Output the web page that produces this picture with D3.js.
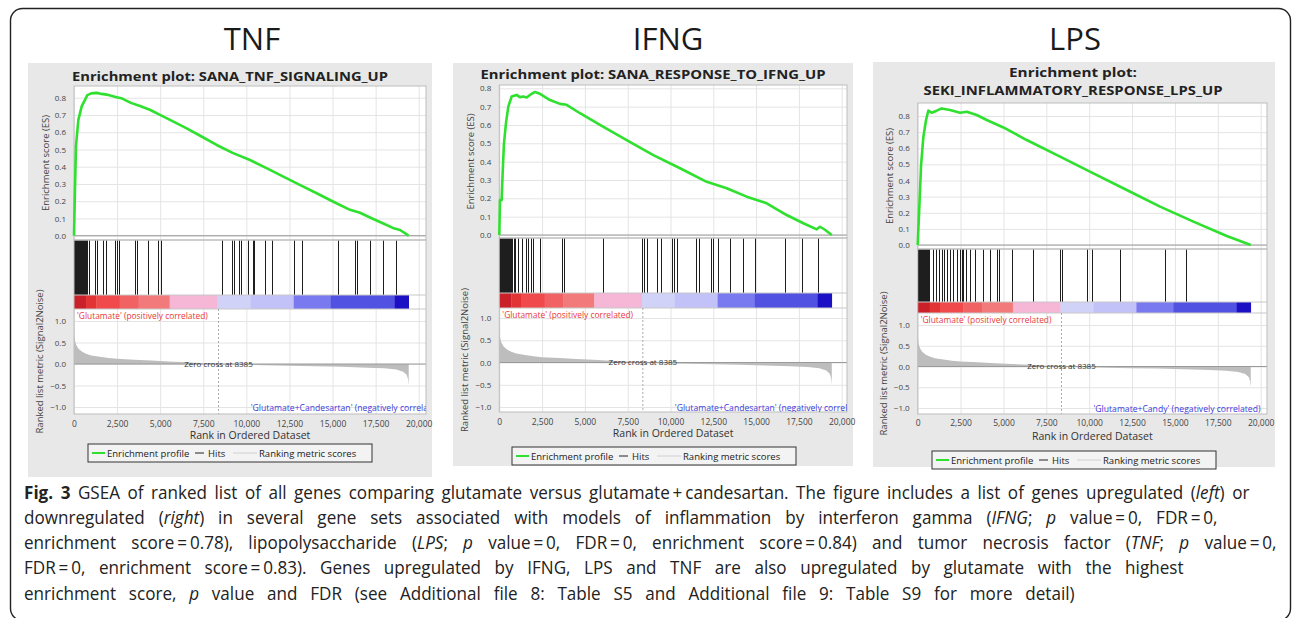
<!DOCTYPE html>
<html>
<head>
<meta charset="utf-8">
<script src="https://cdn.jsdelivr.net/npm/d3@7"></script>
<style>
  body { margin: 0; background: #fff; }
  svg text { font-family: "Open Sans", "DejaVu Sans", sans-serif; }
</style>
</head>
<body>
<svg id="fig" width="1292" height="618"></svg>
<script>
// ---- data ----
var panelNames = ['TNF', 'IFNG', 'LPS'];
var setTitles = [
  ['Enrichment plot: SANA_TNF_SIGNALING_UP'],
  ['Enrichment plot: SANA_RESPONSE_TO_IFNG_UP'],
  ['Enrichment plot:', 'SEKI_INFLAMMATORY_RESPONSE_LPS_UP']
];
var negLabels = [
  "'Glutamate+Candesartan' (negatively correlated)",
  "'Glutamate+Candesartan' (negatively correlated)",
  "'Glutamate+Candy' (negatively correlated)"
];
var posLabel = "'Glutamate' (positively correlated)";

var xTicks = [0, 2500, 5000, 7500, 10000, 12500, 15000, 17500, 20000];
var esTicks = [0, 0.1, 0.2, 0.3, 0.4, 0.5, 0.6, 0.7, 0.8];
var metricTicks = [-1, -0.5, 0, 0.5, 1];
var zeroCross = 8385;
var negLabelRank = 10250;

// running enrichment score [rank, ES]
var tnfES = [[0,0],[58,0.28],[116,0.52],[250,0.67],[445,0.75],[774,0.815],[1000,0.825],[1315,0.828],[1600,0.822],
  [1895,0.818],[2200,0.81],[2476,0.803],[2800,0.795],[3300,0.77],[3829,0.752],[4400,0.73],[4990,0.70],[5800,0.66],
  [6537,0.622],[7400,0.575],[8277,0.526],[9200,0.48],[10211,0.439],[11200,0.39],[12146,0.342],[13100,0.295],
  [14080,0.246],[15050,0.197],[16014,0.15],[16594,0.133],[17300,0.1],[17947,0.071],[18500,0.045],[18915,0.033],
  [19200,0.015],[19420,0]];
var ifngES = [[0,0],[39,0.19],[136,0.19],[195,0.336],[273,0.5],[390,0.61],[526,0.70],[720,0.755],[1013,0.764],
  [1200,0.752],[1402,0.755],[1600,0.75],[1792,0.764],[2084,0.78],[2376,0.77],[2960,0.736],[3544,0.715],[3934,0.71],
  [4713,0.664],[5881,0.60],[7439,0.518],[8997,0.436],[10555,0.364],[12113,0.29],[13281,0.255],[14450,0.209],
  [15618,0.173],[16786,0.109],[17760,0.064],[18539,0.031],[18734,0.045],[19000,0.03],[19420,0]];
var lpsES = [[0,0],[97,0.24],[194,0.49],[330,0.67],[486,0.775],[622,0.833],[816,0.82],[1108,0.833],[1400,0.847],
  [1886,0.837],[2469,0.82],[2858,0.826],[3441,0.806],[4024,0.775],[4996,0.729],[6357,0.651],[8301,0.548],
  [10245,0.444],[12189,0.341],[14133,0.238],[16077,0.145],[18021,0.056],[19420,0]];

// ranks of gene-set members (hits)
var tnfHits = [5,40,80,110,150,190,230,270,310,350,390,430,470,510,560,610,660,700,774,890,1218,1315,1702,1857,
  2379,2476,2630,3539,3636,4313,4893,5048,8568,9187,9303,9593,9670,10115,10367,10444,11082,11469,12764,13210,
  15337,16304,16440,17173,17910,18683];
var ifngHits = [10,40,70,100,130,160,200,240,280,320,360,400,450,500,560,620,680,750,830,910,1110,1305,1558,1694,
  1830,1947,2375,3641,3777,6075,8314,8450,8606,9190,9424,10066,10202,10397,11488,11682,12344,12461,12792,13474,
  14213,14934,16686,17660,18633];
var lpsHits = [5,35,70,100,130,160,190,220,250,280,310,340,370,400,430,460,490,520,550,580,610,640,914,1069,1225,
  1400,1555,1730,1886,2080,2274,2469,2566,2663,2819,3052,3344,3830,4218,4607,4763,5482,6746,8301,8398,9895,10148,
  11800,14424,15649];

// ranked list metric (Signal2Noise), shared by all three panels [rank, value]
var metricScores = [[0,0.88],[15,0.7],[50,0.55],[120,0.45],[250,0.36],[450,0.29],[700,0.24],[1000,0.2],[1500,0.17],
  [2000,0.14],[2500,0.12],[3500,0.1],[4500,0.08],[5500,0.06],[6500,0.04],[7500,0.02],[8385,0],[9500,-0.015],
  [11000,-0.03],[12500,-0.04],[14000,-0.05],[15500,-0.065],[17000,-0.085],[18000,-0.1],[18700,-0.13],
  [19100,-0.18],[19300,-0.25],[19380,-0.35],[19420,-0.5]];

// heat-map bar under the hits
var barEdges = [0,700,1300,2650,3750,5550,8330,10250,12750,14900,18600,19420];
var barColors = ['#c9202a','#e23434','#f04a4c','#f06264','#f27a7a','#f6b6d6','#d0d2f8','#c2c2f8','#7a7af0',
  '#5252e2','#1c10c4'];

var esSeries = [tnfES, ifngES, lpsES];
var hitSeries = [tnfHits, ifngHits, lpsHits];

// ---- page layout ----
var layout = [
  { bg: [28, 63, 404, 414], nameX: 252, subX: 230, subY: [81], subW: [316],
    left: 74, x20k: 418.7, right: 426, esTop: 86, esBottom: 240, es0: 235.7, es8: 97.7,
    barTop: 295, barBottom: 309, mBottom: 414, m1: 321, mm1: 407, tickY: 427, axisY: 439, legend: [88, 444] },
  { bg: [453, 63, 400, 403], nameX: 668, subX: 653, subY: [79], subW: [345],
    left: 499.3, x20k: 841.7, right: 847, esTop: 85, esBottom: 238, es0: 235, es8: 88.3,
    barTop: 293, barBottom: 308, mBottom: 412, m1: 318, mm1: 407, tickY: 425, axisY: 437, legend: [512, 447] },
  { bg: [873, 62, 402, 405], nameX: 1075, subX: 1073, subY: [77, 95], subW: [128, 299],
    left: 917.7, x20k: 1260.7, right: 1267, esTop: 103, esBottom: 249, es0: 245, es8: 116,
    barTop: 302, barBottom: 313, mBottom: 414, m1: 325, mm1: 408, tickY: 426, axisY: 440, legend: [932, 451] }
];

var svg = d3.select('#fig');

// rounded frame around the figure
svg.append('rect')
  .attr('x', 10.5).attr('y', 8.5)
  .attr('width', 1280).attr('height', 612)
  .attr('rx', 12)
  .attr('fill', 'none')
  .attr('stroke', '#222')
  .attr('stroke-width', 1.4);

function styleAxis(sel, size) {
  sel.attr('font-family', null).attr('font-size', size).style('color', '#444');
  sel.select('.domain').remove();
}

function drawPanel(k) {
  var p = layout[k];
  var es = esSeries[k];
  var hits = hitSeries[k];
  var g = svg.append('g');
  var w = p.right - p.left;

  g.append('rect')
    .attr('x', p.bg[0]).attr('y', p.bg[1])
    .attr('width', p.bg[2]).attr('height', p.bg[3])
    .attr('fill', '#e8e8e8');

  g.append('text')
    .attr('x', p.nameX).attr('y', 50)
    .attr('text-anchor', 'middle')
    .attr('font-size', 31)
    .attr('fill', '#1a1a1a')
    .text(panelNames[k]);

  setTitles[k].forEach(function(t, j) {
    g.append('text')
      .attr('x', p.subX).attr('y', p.subY[j])
      .attr('text-anchor', 'middle')
      .attr('font-size', 13)
      .attr('font-weight', 700)
      .attr('fill', '#222')
      .attr('textLength', p.subW[j])
      .attr('lengthAdjust', 'spacingAndGlyphs')
      .text(t);
  });

  var x = d3.scaleLinear().domain([0, 20000]).range([p.left, p.x20k]);
  var yES = d3.scaleLinear().domain([0, 0.8]).range([p.es0, p.es8]);
  var yM = d3.scaleLinear().domain([-1, 1]).range([p.mm1, p.m1]);

  // white plotting area
  g.append('rect')
    .attr('x', p.left).attr('y', p.esTop)
    .attr('width', w).attr('height', p.mBottom - p.esTop)
    .attr('fill', '#fff');

  // grid lines
  var grid = g.append('g');
  grid.append('g')
    .attr('transform', 'translate(0,' + p.mBottom + ')')
    .call(d3.axisBottom(x).tickValues(xTicks).tickSize(-(p.mBottom - p.esTop)).tickFormat(''));
  grid.append('g')
    .attr('transform', 'translate(' + p.left + ',0)')
    .call(d3.axisLeft(yES).tickValues(esTicks).tickSize(-w).tickFormat(''));
  grid.append('g')
    .attr('transform', 'translate(' + p.left + ',0)')
    .call(d3.axisLeft(yM).tickValues(metricTicks).tickSize(-w).tickFormat(''));
  grid.selectAll('.domain').remove();
  grid.selectAll('line').attr('stroke', '#e4e4e4');

  // colour bar
  g.selectAll('.band')
    .data(barColors)
    .enter()
    .append('rect')
    .attr('x', function(d, i) { return x(barEdges[i]); })
    .attr('width', function(d, i) { return x(barEdges[i + 1]) - x(barEdges[i]) + 0.3; })
    .attr('y', p.barTop)
    .attr('height', p.barBottom - p.barTop)
    .attr('fill', function(d) { return d; });

  // hits
  g.selectAll('.hit')
    .data(hits)
    .enter()
    .append('line')
    .attr('x1', function(d) { return Math.round(x(d)) + 0.5; })
    .attr('x2', function(d) { return Math.round(x(d)) + 0.5; })
    .attr('y1', p.esBottom)
    .attr('y2', p.barTop)
    .attr('stroke', '#1e1e1e')
    .attr('stroke-width', 1);

  // ranked metric
  var area = d3.area()
    .x(function(d) { return x(d[0]); })
    .y0(yM(0))
    .y1(function(d) { return yM(d[1]); });
  g.append('path').datum(metricScores).attr('d', area).attr('fill', '#bdbdbd');

  // zero lines
  [yES(0), yM(0)].forEach(function(y0) {
    g.append('line')
      .attr('x1', p.left).attr('x2', p.right)
      .attr('y1', y0).attr('y2', y0)
      .attr('stroke', '#9a9a9a');
  });

  // borders of the plot parts
  g.append('rect')
    .attr('x', p.left).attr('y', p.esTop)
    .attr('width', w).attr('height', p.esBottom - p.esTop)
    .attr('fill', 'none').attr('stroke', '#bdbdbd');
  g.append('rect')
    .attr('x', p.left).attr('y', p.esBottom)
    .attr('width', w).attr('height', p.mBottom - p.esBottom)
    .attr('fill', 'none').attr('stroke', '#bdbdbd');
  [p.barTop, p.barBottom].forEach(function(yb) {
    g.append('line')
      .attr('x1', p.left).attr('x2', p.right)
      .attr('y1', yb).attr('y2', yb)
      .attr('stroke', '#c8c8c8');
  });

  // zero cross
  g.append('line')
    .attr('x1', x(zeroCross)).attr('x2', x(zeroCross))
    .attr('y1', p.barBottom).attr('y2', p.mBottom)
    .attr('stroke', '#aaa')
    .attr('stroke-dasharray', '2,2');
  g.append('text')
    .attr('x', x(zeroCross)).attr('y', yM(0) + 2.5)
    .attr('text-anchor', 'middle')
    .attr('font-size', 8)
    .attr('fill', '#333')
    .text('Zero cross at ' + zeroCross);

  // phenotype labels
  g.append('text')
    .attr('x', p.left + 3).attr('y', p.barBottom + 9.5)
    .attr('font-size', 8.4)
    .attr('fill', '#e8393a')
    .text(posLabel);

  var clipId = 'clip' + k;
  g.append('clipPath').attr('id', clipId)
    .append('rect')
    .attr('x', p.left).attr('y', p.esBottom)
    .attr('width', w).attr('height', p.mBottom - p.esBottom);
  g.append('text')
    .attr('clip-path', 'url(#' + clipId + ')')
    .attr('x', x(negLabelRank)).attr('y', yM(-1) + 3.5)
    .attr('font-size', 8.6)
    .attr('fill', '#3b3bdc')
    .text(negLabels[k]);

  // enrichment profile
  var line = d3.line()
    .x(function(d) { return x(d[0]); })
    .y(function(d) { return yES(d[1]); });
  g.append('path').datum(es)
    .attr('d', line)
    .attr('fill', 'none')
    .attr('stroke', '#2fe02f')
    .attr('stroke-width', 2.6)
    .attr('stroke-linejoin', 'round');

  // axes
  var xa = g.append('g')
    .attr('transform', 'translate(0,' + p.mBottom + ')')
    .call(d3.axisBottom(x).tickValues(xTicks).tickSize(0).tickPadding(0).tickFormat(d3.format(',')));
  styleAxis(xa, 8.5);
  xa.selectAll('text').attr('y', p.tickY - p.mBottom).attr('dy', 0);

  var ya = g.append('g')
    .attr('transform', 'translate(' + p.left + ',0)')
    .call(d3.axisLeft(yES).tickValues(esTicks).tickSize(0).tickPadding(8).tickFormat(d3.format('.1f')));
  styleAxis(ya, 8);

  var ym = g.append('g')
    .attr('transform', 'translate(' + p.left + ',0)')
    .call(d3.axisLeft(yM).tickValues(metricTicks).tickSize(0).tickPadding(8).tickFormat(d3.format('.1f')));
  styleAxis(ym, 8);

  g.append('text')
    .attr('x', (p.left + p.right) / 2).attr('y', p.axisY)
    .attr('text-anchor', 'middle')
    .attr('font-size', 10.5)
    .attr('fill', '#333')
    .text('Rank in Ordered Dataset');
  g.append('text')
    .attr('transform', 'translate(' + (p.left - 25) + ',' + ((p.esTop + p.esBottom) / 2) + ') rotate(-90)')
    .attr('text-anchor', 'middle')
    .attr('font-size', 9.5)
    .attr('fill', '#444')
    .text('Enrichment score (ES)');
  g.append('text')
    .attr('transform', 'translate(' + (p.left - 31) + ',' + ((p.barBottom + p.mBottom) / 2) + ') rotate(-90)')
    .attr('text-anchor', 'middle')
    .attr('font-size', 9.5)
    .attr('fill', '#444')
    .text('Ranked list metric (Signal2Noise)');

  // legend
  var lg = g.append('g').attr('transform', 'translate(' + p.legend[0] + ',' + p.legend[1] + ')');
  lg.append('rect').attr('width', 284).attr('height', 18).attr('fill', '#f3f3f3').attr('stroke', '#333');
  lg.append('line').attr('x1', 4).attr('x2', 17).attr('y1', 9).attr('y2', 9).attr('stroke', '#2fe02f').attr('stroke-width', 2);
  lg.append('text').attr('x', 19).attr('y', 12.5).attr('font-size', 9.5).attr('fill', '#222').text('Enrichment profile');
  lg.append('line').attr('x1', 107).attr('x2', 116).attr('y1', 9).attr('y2', 9).attr('stroke', '#222');
  lg.append('text').attr('x', 120).attr('y', 12.5).attr('font-size', 9.5).attr('fill', '#222').text('Hits');
  lg.append('line').attr('x1', 145).attr('x2', 169).attr('y1', 9).attr('y2', 9).attr('stroke', '#d0d0d0');
  lg.append('text').attr('x', 171).attr('y', 12.5).attr('font-size', 9.5).attr('fill', '#222').text('Ranking metric scores');
}

[0, 1, 2].forEach(drawPanel);

// ---- caption ----
var captionLines = [
  [['b', 'Fig. 3'], ['n', ' GSEA of ranked list of all genes comparing glutamate versus glutamate\u2009+\u2009candesartan. The figure includes a list of genes upregulated ('], ['i', 'left'], ['n', ') or']],
  [['n', 'downregulated ('], ['i', 'right'], ['n', ') in several gene sets associated with models of inflammation by interferon gamma ('], ['i', 'IFNG'], ['n', '; '], ['i', 'p'], ['n', ' value\u2009=\u20090, FDR\u2009=\u20090,']],
  [['n', 'enrichment score\u2009=\u20090.78), lipopolysaccharide ('], ['i', 'LPS'], ['n', '; '], ['i', 'p'], ['n', ' value\u2009=\u20090, FDR\u2009=\u20090, enrichment score\u2009=\u20090.84) and tumor necrosis factor ('], ['i', 'TNF'], ['n', '; '], ['i', 'p'], ['n', ' value\u2009=\u20090,']],
  [['n', 'FDR\u2009=\u20090, enrichment score\u2009=\u20090.83). Genes upregulated by IFNG, LPS and TNF are also upregulated by glutamate with the highest']],
  [['n', 'enrichment score, '], ['i', 'p'], ['n', ' value and FDR (see Additional file 8: Table S5 and Additional file 9: Table S9 for more detail)']]
];
var capEnds = [1250, 1218, 1277, 1184, 1075];
var capBase = [499, 524, 549, 574, 599.5];
var capLeft = 24;
var capScale = 0.95;

captionLines.forEach(function(parts, i) {
  var t = svg.append('text').attr('font-size', 18).attr('fill', '#222');
  parts.forEach(function(q) {
    t.append('tspan')
      .attr('font-weight', q[0] === 'b' ? 700 : null)
      .attr('font-style', q[0] === 'i' ? 'italic' : null)
      .text(q[1]);
  });
  var n = (t.text().match(/ /g) || []).length;
  var natural = t.node().getComputedTextLength();
  var ws = ((capEnds[i] - capLeft) / capScale - natural) / n;
  t.attr('word-spacing', ws)
    .attr('transform', 'translate(' + capLeft + ',' + capBase[i] + ') scale(' + capScale + ',1)');
});
</script>
</body>
</html>
